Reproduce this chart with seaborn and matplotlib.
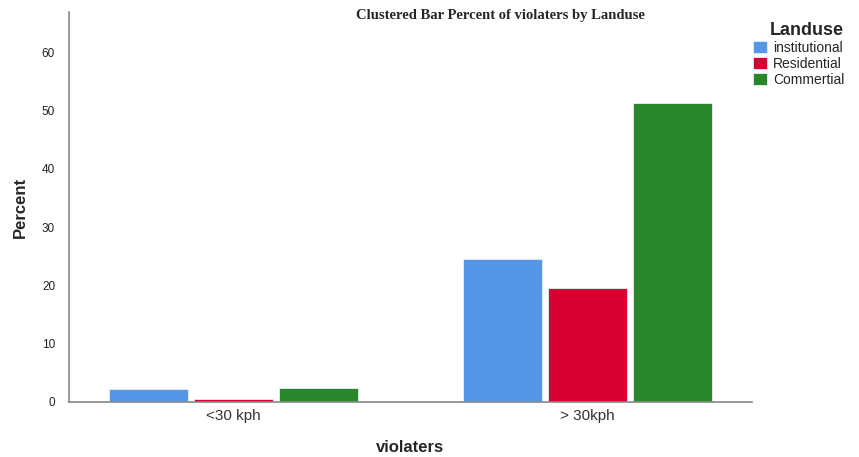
import pandas as pd
import matplotlib.pyplot as plt
import seaborn as sns

# ── data ─────────────────────────────────────────────────────
violaters = ["<30 kph", "> 30kph"]
landuse = ["institutional", "Residential", "Commertial"]
institutional = [2.2, 24.5]
residential = [0.5, 19.6]
commertial = [2.4, 51.3]

COLORS = ["#5596e6", "#d60032", "#2a862a"]

df = pd.DataFrame({
    "violaters": violaters * 3,
    "Landuse": [l for l in landuse for _ in violaters],
    "Percent": institutional + residential + commertial,
})

sns.set_theme(style="white")
plt.rcParams["font.family"] = ["Liberation Sans", "DejaVu Sans"]

fig = plt.figure(figsize=(8.59, 4.57), dpi=100)
ax = fig.add_axes([0.0803, 0.1204, 0.7951, 0.8533])

sns.barplot(data=df, x="violaters", y="Percent", hue="Landuse",
            hue_order=landuse, palette=COLORS, saturation=1,
            width=0.72, gap=0.07,
            edgecolor="#e8eef8", linewidth=0.6, ax=ax, legend=True)

ax.set_xlim(-0.466, 1.466)
ax.set_ylim(0, 66.9)
ax.set_yticks([0, 10, 20, 30, 40, 50, 60])
ax.tick_params(axis="y", labelsize=8.5, colors="#222222", length=0, pad=10)
ax.tick_params(axis="x", labelsize=11, colors="#333333", length=0, pad=5)
for s in ["top", "right"]:
    ax.spines[s].set_visible(False)
for s in ["left", "bottom"]:
    ax.spines[s].set_color("#888888")
    ax.spines[s].set_linewidth(1.2)

ax.set_xlabel("violaters", fontsize=12, fontweight="bold", labelpad=12)
ax.set_ylabel("Percent", fontsize=12, fontweight="bold", labelpad=10)

fig.text(0.582, 0.965, "Clustered Bar Percent of violaters by Landuse",
         ha="center", va="center", fontsize=10.5, fontweight="bold",
         family="Liberation Serif")

leg = ax.legend(title="Landuse", loc="upper left",
                bbox_to_anchor=(1.002, 0.975), frameon=False,
                fontsize=10, title_fontproperties={"weight": "bold", "size": 13},
                handlelength=1.0, handleheight=0.9, handletextpad=0.4,
                labelspacing=0.15, borderaxespad=0, borderpad=0)
leg._legend_box.align = "right"

fig.savefig("out.png", dpi=100)
